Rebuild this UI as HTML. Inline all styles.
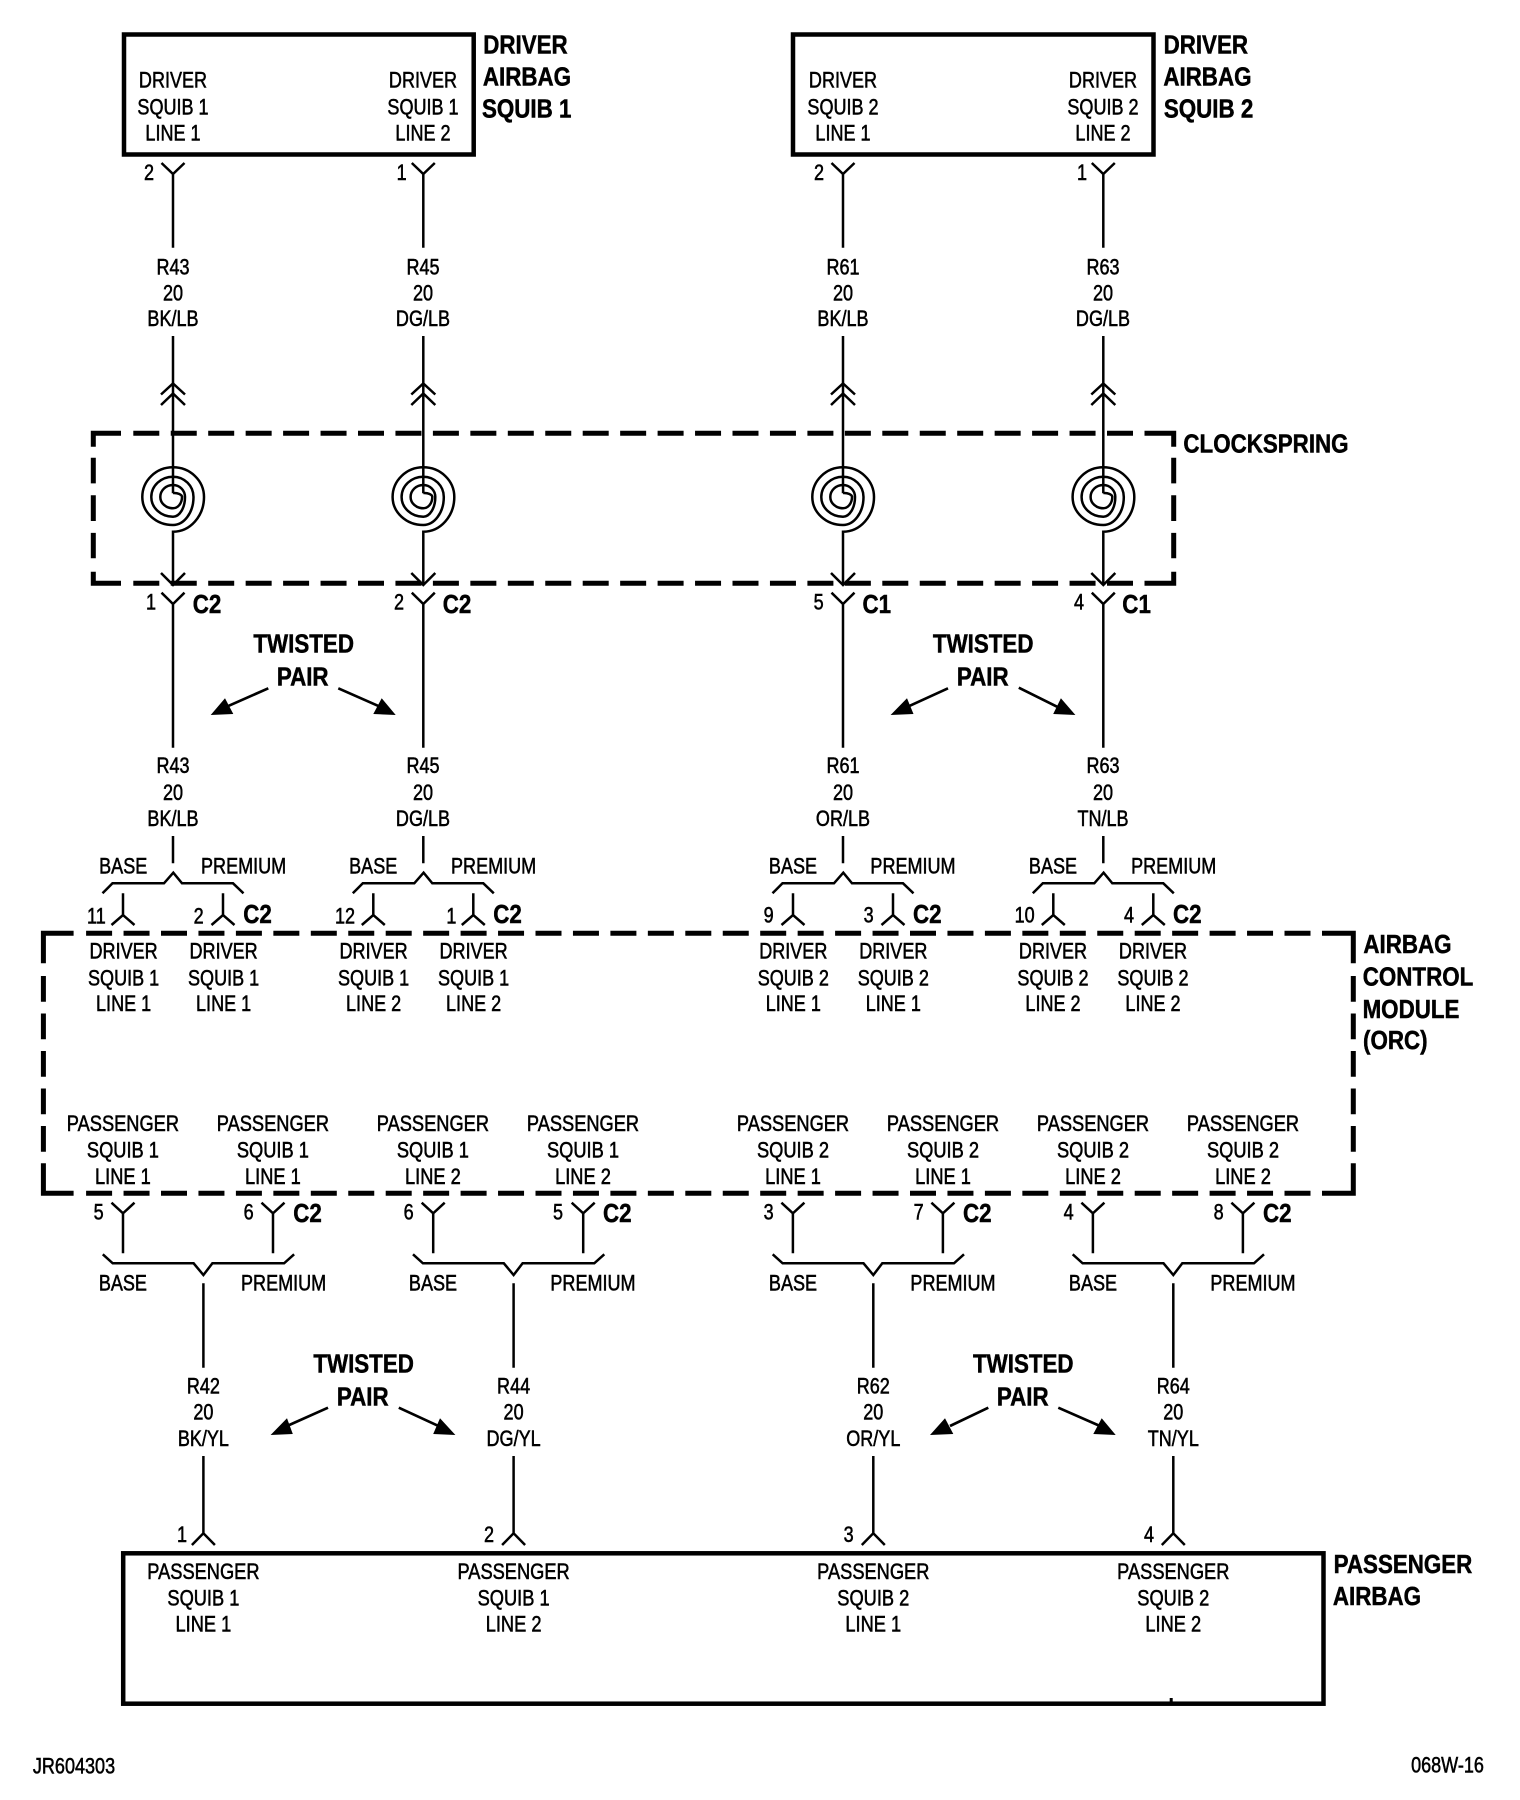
<!DOCTYPE html>
<html><head><meta charset="utf-8"><title>Airbag wiring diagram</title>
<style>
html,body{margin:0;padding:0;background:#fff;width:1520px;height:1800px;overflow:hidden}
svg{display:block}
text{font-family:"Liberation Sans",sans-serif;fill:#000;text-anchor:middle;transform-box:fill-box;transform-origin:center}
.t{font-size:22px;stroke:#000;stroke-width:.55px;transform:translateY(-.6px) scaleX(.82)}
.p{font-size:22px;stroke:#000;stroke-width:.55px;transform:translateY(-.6px) scaleX(.83)}
.b{font-size:26px;font-weight:bold;stroke:#000;stroke-width:.5px;transform:translateY(-1px) scaleX(.86)}
.w{fill:none;stroke:#000;stroke-width:2.5}
.d{fill:none;stroke:#000;stroke-width:5}
</style></head><body>
<svg width="1520" height="1800" viewBox="0 0 1520 1800" xmlns="http://www.w3.org/2000/svg">
<defs>
<g id="col" class="w">
<path d="M-11.5,163L0,174L11.5,163M0,174V247.7M0,336V493.3"/>
<path d="M-12,394.5L0,383.5L12,394.5M-12,405L0,393.5L12,405"/>
<path d="M0,493A8,4 0 0 1 9,497A9,11.3 0 0 1 0,508.3A12.7,11.3 0 0 1 -12.7,497A12.7,12 0 0 1 0,485A12,12 0 0 1 12,497A12,19.7 0 0 1 0,516.7A21.7,19.7 0 0 1 -21.7,497A21.7,20.3 0 0 1 0,476.7A20.5,20.3 0 0 1 20.5,497A20.5,28 0 0 1 0,525A30.7,28 0 0 1 -30.7,497A30.7,29.7 0 0 1 0,467.3A31,29.7 0 0 1 31,497A31,34.7 0 0 1 0,531.7V585"/>
<path d="M-12,573L0,585L12,573M-11.5,592.7L0,604L11.5,592.7M0,604V747.7M0,836V863.3"/>
<path d="M-70.5,893.3L-60.5,883.3H-9L0.3,872.7L9,883.3H60L70.5,893.3"/>
<path d="M-50,893.3V915M-61.5,925L-50,915L-38.5,925M50,893.3V915M38.5,925L50,915L61.5,925"/>
</g>
<g id="low" class="w">
<path d="M-91.9,1202.7L-80.4,1213.3L-68.9,1202.7M-80.4,1213.3V1253.3M58.1,1202.7L69.6,1213.3L81.1,1202.7M69.6,1213.3V1253.3"/>
<path d="M-100.6,1254.3L-90.7,1263.3H-9.8L0,1275L9,1263.3H80.7L90.7,1254.3"/>
<path d="M0,1283.3V1367.7M0,1456V1533.3M-11.5,1545L0,1533.3L11.5,1545"/>
</g>
</defs>

<!-- boxes -->
<g fill="none" stroke="#000" stroke-width="4.5">
<rect x="124" y="34.5" width="349.7" height="120"/>
<rect x="793" y="34.5" width="360.5" height="120"/>
<rect x="123.2" y="1553.3" width="1200.3" height="150.4"/>
</g>
<rect x="1169.7" y="1698" width="3" height="4" fill="#000"/>

<!-- dashed clockspring -->
<g class="d">
<path d="M121,433.3H93.3V446.7M1144.5,433.3H1173.7V446.7M121,583.3H93.3V571.7M1144.5,583.3H1173.7V571.7"/>
<path stroke-dasharray="26 11.45" d="M133.3,433.3H1133M133.3,583.3H1133"/>
<path stroke-dasharray="25.7 11.9" d="M93.3,457.7V558.3M1173.7,457.7V558.3"/>
</g>
<!-- dashed module -->
<g class="d">
<path d="M73.6,933.3H43.4V963.3M1322,933.3H1353.3V963.3M73.6,1193.3H43.4V1163.3M1322,1193.3H1353.3V1163.3"/>
<path stroke-dasharray="26 11.45" d="M86.1,933.3H1311M86.1,1193.3H1311"/>
<path stroke-dasharray="25.7 11.8" d="M43.4,976V1152M1353.3,976V1152"/>
</g>

<use href="#col" x="173"/><use href="#col" x="423.3"/><use href="#col" x="843"/><use href="#col" x="1103.3"/>
<use href="#low" x="203.4"/><use href="#low" x="513.6"/><use href="#low" x="873.3"/><use href="#low" x="1173.3"/>

<!-- twisted pair arrows -->
<g class="w" style="stroke-width:2.7">
<path d="M268.3,688.3L226.7,706.7M338.3,688.3L380,706.7M948,688.3L907.8,706.7M1018.8,687.7L1057,706.7"/>
<path d="M328,1407.7L287,1426M398.8,1407.7L440,1426.7M988.3,1407.7L950,1426M1058.3,1407.7L1100,1426"/>
</g>
<g fill="#000">
<polygon points="210.7,715 225,698.3 233.3,714"/><polygon points="395.7,715 381.7,698.3 373.3,714"/>
<polygon points="890.6,715 907,698.3 913.5,714"/><polygon points="1075.4,715 1060.9,698.3 1053.2,714"/>
<polygon points="270.6,1435 287,1418.3 292.8,1434"/><polygon points="455.4,1435 440,1418.3 433.2,1434"/>
<polygon points="930,1435 945,1418.3 953.3,1434"/><polygon points="1115.7,1435 1101.7,1418.3 1093.3,1434"/>
</g>

<!-- headings -->
<text class="b" x="525.5" y="54.3">DRIVER</text><text class="b" x="527" y="86.7">AIRBAG</text><text class="b" x="526.7" y="118.7">SQUIB 1</text>
<text class="b" x="1205.8" y="54.3">DRIVER</text><text class="b" x="1207.4" y="86.7">AIRBAG</text><text class="b" x="1208.6" y="118.7">SQUIB 2</text>
<text class="b" x="1266" y="453.3">CLOCKSPRING</text>
<text class="b" x="1407.5" y="954">AIRBAG</text><text class="b" x="1418" y="986.7">CONTROL</text><text class="b" x="1411" y="1019">MODULE</text><text class="b" x="1395.3" y="1050">(ORC)</text>
<text class="b" x="1403" y="1574">PASSENGER</text><text class="b" x="1377" y="1606">AIRBAG</text>
<text class="b" x="303.7" y="653.3">TWISTED</text><text class="b" x="302.7" y="686.7">PAIR</text>
<text class="b" x="983.2" y="653.3">TWISTED</text><text class="b" x="982.8" y="686.7">PAIR</text>
<text class="b" x="363.6" y="1373.3">TWISTED</text><text class="b" x="362.8" y="1406.7">PAIR</text>
<text class="b" x="1023.3" y="1373.3">TWISTED</text><text class="b" x="1022.8" y="1406.7">PAIR</text>

<!-- C labels -->
<text class="b" x="207" y="614">C2</text><text class="b" x="457" y="614">C2</text><text class="b" x="876.8" y="614">C1</text><text class="b" x="1136.6" y="614">C1</text>
<text class="b" x="257.5" y="924">C2</text><text class="b" x="507.5" y="924">C2</text><text class="b" x="927.3" y="924">C2</text><text class="b" x="1187.3" y="924">C2</text>
<text class="b" x="307.5" y="1223">C2</text><text class="b" x="617.3" y="1223">C2</text><text class="b" x="977.3" y="1223">C2</text><text class="b" x="1277.3" y="1223">C2</text>

<!-- top box text -->
<text class="t"><tspan x="173" y="88.3">DRIVER</tspan><tspan x="173" y="115">SQUIB 1</tspan><tspan x="173" y="141">LINE 1</tspan></text>
<text class="t"><tspan x="423" y="88.3">DRIVER</tspan><tspan x="423" y="115">SQUIB 1</tspan><tspan x="423" y="141">LINE 2</tspan></text>
<text class="t"><tspan x="843" y="88.3">DRIVER</tspan><tspan x="843" y="115">SQUIB 2</tspan><tspan x="843" y="141">LINE 1</tspan></text>
<text class="t"><tspan x="1103" y="88.3">DRIVER</tspan><tspan x="1103" y="115">SQUIB 2</tspan><tspan x="1103" y="141">LINE 2</tspan></text>

<!-- pin numbers -->
<g class="pins">
<text class="t" x="149" y="180.7">2</text><text class="t" x="401.7" y="180.7">1</text><text class="t" x="819" y="180.7">2</text><text class="t" x="1082" y="180.7">1</text>
<text class="t" x="151" y="610">1</text><text class="t" x="399" y="610">2</text><text class="t" x="818.6" y="610">5</text><text class="t" x="1079" y="610">4</text>
<text class="t" x="96.4" y="924">11</text><text class="t" x="198.6" y="924">2</text><text class="t" x="345" y="924">12</text><text class="t" x="451.4" y="924">1</text>
<text class="t" x="768.7" y="923.3">9</text><text class="t" x="868.7" y="923.3">3</text><text class="t" x="1024.7" y="923.3">10</text><text class="t" x="1129" y="923.3">4</text>
<text class="t" x="98.6" y="1220">5</text><text class="t" x="248.6" y="1220">6</text><text class="t" x="408.6" y="1220">6</text><text class="t" x="558" y="1220">5</text>
<text class="t" x="768.7" y="1220">3</text><text class="t" x="918.7" y="1220">7</text><text class="t" x="1068.7" y="1220">4</text><text class="t" x="1218.7" y="1220">8</text>
<text class="t" x="182" y="1542.7">1</text><text class="t" x="489" y="1542.7">2</text><text class="t" x="848.7" y="1542.7">3</text><text class="t" x="1149" y="1542.7">4</text>
</g>

<!-- wire labels -->
<text class="t"><tspan x="173" y="275">R43</tspan><tspan x="173" y="301">20</tspan><tspan x="173" y="326.7">BK/LB</tspan></text>
<text class="t"><tspan x="423" y="275">R45</tspan><tspan x="423" y="301">20</tspan><tspan x="423" y="326.7">DG/LB</tspan></text>
<text class="t"><tspan x="843" y="275">R61</tspan><tspan x="843" y="301">20</tspan><tspan x="843" y="326.7">BK/LB</tspan></text>
<text class="t"><tspan x="1103" y="275">R63</tspan><tspan x="1103" y="301">20</tspan><tspan x="1103" y="326.7">DG/LB</tspan></text>
<text class="t"><tspan x="173" y="773.8">R43</tspan><tspan x="173" y="800.5">20</tspan><tspan x="173" y="826.5">BK/LB</tspan></text>
<text class="t"><tspan x="423" y="773.8">R45</tspan><tspan x="423" y="800.5">20</tspan><tspan x="423" y="826.5">DG/LB</tspan></text>
<text class="t"><tspan x="843" y="773.8">R61</tspan><tspan x="843" y="800.5">20</tspan><tspan x="843" y="826.5">OR/LB</tspan></text>
<text class="t"><tspan x="1103" y="773.8">R63</tspan><tspan x="1103" y="800.5">20</tspan><tspan x="1103" y="826.5">TN/LB</tspan></text>
<text class="t"><tspan x="203.4" y="1394">R42</tspan><tspan x="203.4" y="1420">20</tspan><tspan x="203.4" y="1446.7">BK/YL</tspan></text>
<text class="t"><tspan x="513.6" y="1394">R44</tspan><tspan x="513.6" y="1420">20</tspan><tspan x="513.6" y="1446.7">DG/YL</tspan></text>
<text class="t"><tspan x="873.3" y="1394">R62</tspan><tspan x="873.3" y="1420">20</tspan><tspan x="873.3" y="1446.7">OR/YL</tspan></text>
<text class="t"><tspan x="1173.3" y="1394">R64</tspan><tspan x="1173.3" y="1420">20</tspan><tspan x="1173.3" y="1446.7">TN/YL</tspan></text>

<!-- BASE / PREMIUM -->
<text class="t" x="123.2" y="874.3">BASE</text><text class="t" x="243.6" y="874.3">PREMIUM</text>
<text class="t" x="373.2" y="874.3">BASE</text><text class="t" x="493.6" y="874.3">PREMIUM</text>
<text class="t" x="793" y="874.3">BASE</text><text class="t" x="913" y="874.3">PREMIUM</text>
<text class="t" x="1053" y="874.3">BASE</text><text class="t" x="1173.7" y="874.3">PREMIUM</text>
<text class="t" x="122.9" y="1291">BASE</text><text class="t" x="283.6" y="1291">PREMIUM</text>
<text class="t" x="433" y="1291">BASE</text><text class="t" x="593" y="1291">PREMIUM</text>
<text class="t" x="793" y="1291">BASE</text><text class="t" x="953" y="1291">PREMIUM</text>
<text class="t" x="1093" y="1291">BASE</text><text class="t" x="1253" y="1291">PREMIUM</text>

<!-- module: driver -->
<text class="t"><tspan x="123.6" y="959.3">DRIVER</tspan><tspan x="123.6" y="986">SQUIB 1</tspan><tspan x="123.6" y="1011.7">LINE 1</tspan></text>
<text class="t"><tspan x="223.6" y="959.3">DRIVER</tspan><tspan x="223.6" y="986">SQUIB 1</tspan><tspan x="223.6" y="1011.7">LINE 1</tspan></text>
<text class="t"><tspan x="373.6" y="959.3">DRIVER</tspan><tspan x="373.6" y="986">SQUIB 1</tspan><tspan x="373.6" y="1011.7">LINE 2</tspan></text>
<text class="t"><tspan x="473.6" y="959.3">DRIVER</tspan><tspan x="473.6" y="986">SQUIB 1</tspan><tspan x="473.6" y="1011.7">LINE 2</tspan></text>
<text class="t"><tspan x="793.3" y="959.3">DRIVER</tspan><tspan x="793.3" y="986">SQUIB 2</tspan><tspan x="793.3" y="1011.7">LINE 1</tspan></text>
<text class="t"><tspan x="893.3" y="959.3">DRIVER</tspan><tspan x="893.3" y="986">SQUIB 2</tspan><tspan x="893.3" y="1011.7">LINE 1</tspan></text>
<text class="t"><tspan x="1053" y="959.3">DRIVER</tspan><tspan x="1053" y="986">SQUIB 2</tspan><tspan x="1053" y="1011.7">LINE 2</tspan></text>
<text class="t"><tspan x="1153" y="959.3">DRIVER</tspan><tspan x="1153" y="986">SQUIB 2</tspan><tspan x="1153" y="1011.7">LINE 2</tspan></text>

<!-- module: passenger -->
<text class="p"><tspan x="122.9" y="1131.7">PASSENGER</tspan><tspan x="122.9" y="1158.3">SQUIB 1</tspan><tspan x="122.9" y="1184.4">LINE 1</tspan></text>
<text class="p"><tspan x="272.9" y="1131.7">PASSENGER</tspan><tspan x="272.9" y="1158.3">SQUIB 1</tspan><tspan x="272.9" y="1184.4">LINE 1</tspan></text>
<text class="p"><tspan x="432.9" y="1131.7">PASSENGER</tspan><tspan x="432.9" y="1158.3">SQUIB 1</tspan><tspan x="432.9" y="1184.4">LINE 2</tspan></text>
<text class="p"><tspan x="583" y="1131.7">PASSENGER</tspan><tspan x="583" y="1158.3">SQUIB 1</tspan><tspan x="583" y="1184.4">LINE 2</tspan></text>
<text class="p"><tspan x="793" y="1131.7">PASSENGER</tspan><tspan x="793" y="1158.3">SQUIB 2</tspan><tspan x="793" y="1184.4">LINE 1</tspan></text>
<text class="p"><tspan x="943" y="1131.7">PASSENGER</tspan><tspan x="943" y="1158.3">SQUIB 2</tspan><tspan x="943" y="1184.4">LINE 1</tspan></text>
<text class="p"><tspan x="1093" y="1131.7">PASSENGER</tspan><tspan x="1093" y="1158.3">SQUIB 2</tspan><tspan x="1093" y="1184.4">LINE 2</tspan></text>
<text class="p"><tspan x="1243" y="1131.7">PASSENGER</tspan><tspan x="1243" y="1158.3">SQUIB 2</tspan><tspan x="1243" y="1184.4">LINE 2</tspan></text>

<!-- passenger airbag box -->
<text class="p"><tspan x="203.4" y="1579.6">PASSENGER</tspan><tspan x="203.4" y="1606">SQUIB 1</tspan><tspan x="203.4" y="1632">LINE 1</tspan></text>
<text class="p"><tspan x="513.6" y="1579.6">PASSENGER</tspan><tspan x="513.6" y="1606">SQUIB 1</tspan><tspan x="513.6" y="1632">LINE 2</tspan></text>
<text class="p"><tspan x="873.3" y="1579.6">PASSENGER</tspan><tspan x="873.3" y="1606">SQUIB 2</tspan><tspan x="873.3" y="1632">LINE 1</tspan></text>
<text class="p"><tspan x="1173.3" y="1579.6">PASSENGER</tspan><tspan x="1173.3" y="1606">SQUIB 2</tspan><tspan x="1173.3" y="1632">LINE 2</tspan></text>

<text class="t" x="74" y="1774">JR604303</text>
<text class="t" x="1447.5" y="1773">068W-16</text>
</svg>
</body></html>
